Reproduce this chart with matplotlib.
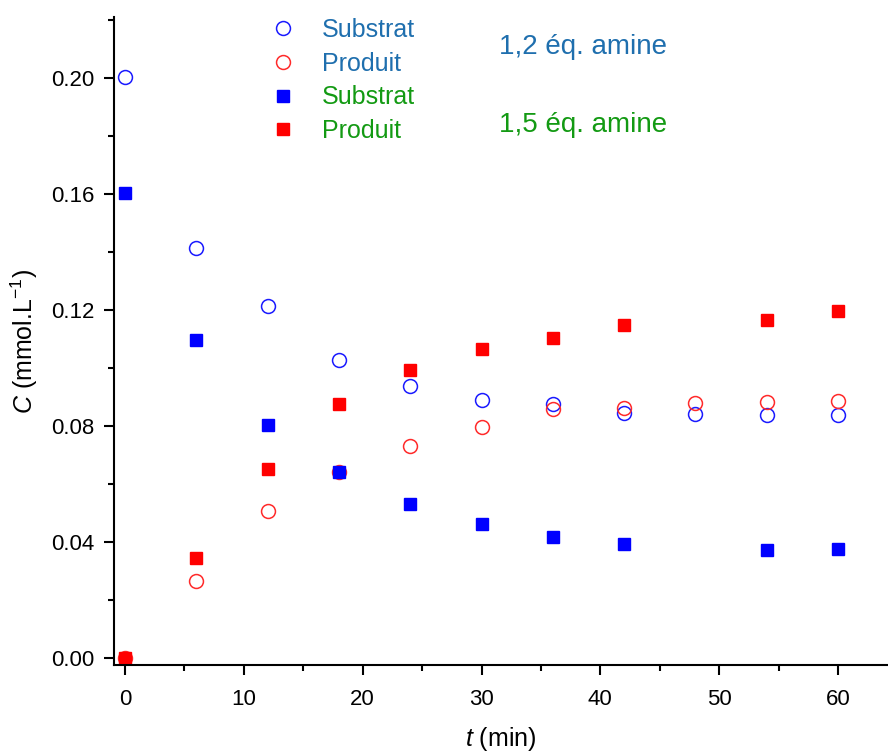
import matplotlib
matplotlib.use("Agg")
import matplotlib.pyplot as plt
from matplotlib.ticker import MultipleLocator, FormatStrFormatter
from matplotlib.lines import Line2D

plt.rcParams['font.family'] = ['Liberation Sans', 'DejaVu Sans']
plt.rcParams['mathtext.fontset'] = 'custom'
plt.rcParams['mathtext.it'] = 'Liberation Sans:italic'
plt.rcParams['mathtext.rm'] = 'Liberation Sans'
plt.rcParams['mathtext.sf'] = 'Liberation Sans'

t_a = [0, 6, 12, 18, 24, 30, 36, 42, 48, 54, 60]
sub_12 = [0.2003, 0.1414, 0.1214, 0.1028, 0.0938, 0.0890, 0.0876, 0.0845, 0.0841, 0.0836, 0.0836]
prod_12 = [0.0, 0.0266, 0.0507, 0.0642, 0.0731, 0.0797, 0.0859, 0.0862, 0.0879, 0.0883, 0.0885]

t_b = [0, 6, 12, 18, 24, 30, 36, 42, 54, 60]
sub_15 = [0.1603, 0.1097, 0.0802, 0.0641, 0.0531, 0.0462, 0.0417, 0.0393, 0.0372, 0.0376]
prod_15 = [0.0, 0.0345, 0.0652, 0.0874, 0.0992, 0.1066, 0.1103, 0.1148, 0.1164, 0.1197]

labels = ["Substrat", "Produit", "Substrat", "Produit"]
group_labels = ["1,2 éq. amine", "1,5 éq. amine"]
blue_txt = "#1f6fae"
green_txt = "#139a13"

fig = plt.figure(figsize=(8.88, 7.53), dpi=100)
ax = fig.add_axes([0.1284, 0.1169, 0.8716, 0.8605])

ax.plot(t_a, sub_12, 'o', mfc='none', mec='#1a1aff', ms=10, mew=1.1, ls='none')
ax.plot(t_a, prod_12, 'o', mfc='none', mec='#ff2a2a', ms=10, mew=1.1, ls='none')
ax.plot(t_b, prod_15, 's', color='#ff0000', ms=8.5, ls='none')
ax.plot(t_b, sub_15, 's', color='#0000ff', ms=8.5, ls='none')

ax.set_xlim(-0.92, 64.2)
ax.set_ylim(-0.0025, 0.221)
ax.xaxis.set_major_locator(MultipleLocator(10))
ax.xaxis.set_minor_locator(MultipleLocator(5))
ax.yaxis.set_major_locator(MultipleLocator(0.04))
ax.yaxis.set_minor_locator(MultipleLocator(0.02))
ax.yaxis.set_major_formatter(FormatStrFormatter('%.2f'))
for s in ['top', 'right']:
    ax.spines[s].set_visible(False)
for s in ['left', 'bottom']:
    ax.spines[s].set_linewidth(1.5)
ax.tick_params(which='major', direction='out', length=7, width=1.5, labelsize=16, pad=7)
ax.tick_params(axis='x', which='major', pad=10)
ax.tick_params(which='minor', direction='out', length=4.5, width=1.5)

ax.set_xlabel(r"$\mathit{t}$ (min)", fontsize=18, labelpad=11)
ax.set_ylabel(r"$\mathit{C}$ (mmol.L$^{-1}$)", fontsize=18, labelpad=8)

handles = [
    Line2D([], [], marker='o', mfc='none', mec='#1a1aff', ms=10, mew=1.1, ls='none'),
    Line2D([], [], marker='o', mfc='none', mec='#ff2a2a', ms=10, mew=1.1, ls='none'),
    Line2D([], [], marker='s', color='#0000ff', ms=8.5, ls='none'),
    Line2D([], [], marker='s', color='#ff0000', ms=8.5, ls='none'),
]
leg = ax.legend(handles, labels, loc='upper left', bbox_to_anchor=(0.189, 1.014),
                frameon=False, fontsize=18, labelspacing=0.39, handletextpad=1.06,
                handlelength=1.0, borderaxespad=0)
for i, txt in enumerate(leg.get_texts()):
    txt.set_color(blue_txt if i < 2 else green_txt)

fig.text(583 / 888, 1 - 47 / 753, group_labels[0], color=blue_txt, fontsize=20,
         ha='center', va='center')
fig.text(583 / 888, 1 - 125 / 753, group_labels[1], color=green_txt, fontsize=20,
         ha='center', va='center')

fig.savefig("out.png", dpi=100)
